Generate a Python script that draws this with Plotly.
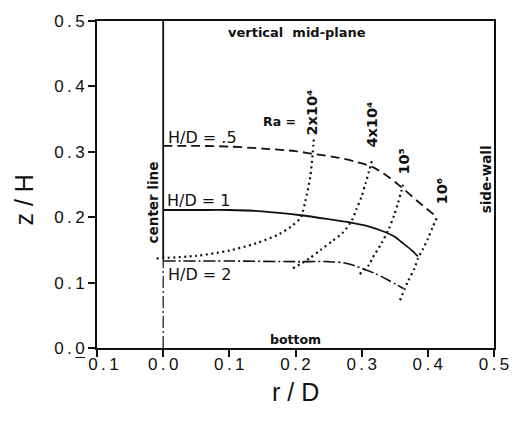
import plotly.graph_objects as go

# ---- data ----
hd05_r = [0.0, 0.05, 0.10, 0.15, 0.20, 0.225, 0.26, 0.29, 0.316, 0.34, 0.36, 0.385, 0.414]
hd05_z = [0.309, 0.309, 0.308, 0.305, 0.301, 0.297, 0.292, 0.285, 0.277, 0.262, 0.246, 0.224, 0.200]

hd1_r = [0.0, 0.05, 0.10, 0.15, 0.208, 0.25, 0.282, 0.31, 0.336, 0.35, 0.36, 0.375, 0.385]
hd1_z = [0.211, 0.211, 0.211, 0.209, 0.203, 0.197, 0.192, 0.186, 0.177, 0.170, 0.162, 0.150, 0.140]

hd2_r = [0.0, 0.10, 0.20, 0.25, 0.275, 0.30, 0.32, 0.34, 0.363]
hd2_z = [0.133, 0.133, 0.132, 0.132, 0.130, 0.122, 0.114, 0.104, 0.091]

ra2e4_r = [-0.01, 0.05, 0.10, 0.14, 0.175, 0.195, 0.208, 0.215, 0.222, 0.226, 0.228]
ra2e4_z = [0.137, 0.141, 0.149, 0.160, 0.174, 0.187, 0.200, 0.225, 0.260, 0.297, 0.325]

ra4e4_r = [0.196, 0.21, 0.221, 0.238, 0.255, 0.272, 0.285, 0.292, 0.300, 0.306, 0.311, 0.316]
ra4e4_z = [0.122, 0.130, 0.137, 0.150, 0.163, 0.177, 0.195, 0.212, 0.232, 0.252, 0.270, 0.288]

ra1e5_r = [0.297, 0.311, 0.316, 0.330, 0.341, 0.349, 0.355, 0.360, 0.364]
ra1e5_z = [0.113, 0.127, 0.137, 0.160, 0.182, 0.203, 0.222, 0.240, 0.255]

ra1e6_r = [0.358, 0.37, 0.38, 0.385, 0.393, 0.400, 0.407, 0.414]
ra1e6_z = [0.073, 0.102, 0.122, 0.137, 0.152, 0.167, 0.184, 0.200]

center_solid_r = [0.0, 0.0]
center_solid_z = [0.137, 0.5]
center_dd_r = [0.0, 0.0]
center_dd_z = [0.0, 0.137]

x_ticks = [-0.1, 0.0, 0.1, 0.2, 0.3, 0.4, 0.5]
x_ticklabels = ["¯0.1", "0.0", "0.1", "0.2", "0.3", "0.4", "0.5"]
y_ticks = [0.0, 0.1, 0.2, 0.3, 0.4, 0.5]
y_ticklabels = ["0.0", "0.1", "0.2", "0.3", "0.4", "0.5"]

ra_labels = ["2x10⁴", "4x10⁴", "10⁵", "10⁶"]

THIN = "\u2009"
def spaced(s):
    return THIN.join(list(s))

BLACK = "#111111"
DOT = "2px,3.5px"
DASHDOT = "12px,3px,2px,3px"

fig = go.Figure()

def add(r, z, dash, width=1.8, shape="spline"):
    fig.add_trace(go.Scatter(x=r, y=z, mode="lines",
                             line=dict(color=BLACK, width=width, dash=dash, shape=shape,
                                       smoothing=0.8),
                             showlegend=False, hoverinfo="skip"))

add(center_solid_r, center_solid_z, "solid", 1.8, "linear")
add(center_dd_r, center_dd_z, DASHDOT, 1.2, "linear")
add(hd05_r, hd05_z, "9px,5px")
add(hd1_r, hd1_z, "solid")
add(hd2_r, hd2_z, DASHDOT, 1.6)
for rr, zz in [(ra2e4_r, ra2e4_z), (ra4e4_r, ra4e4_z), (ra1e5_r, ra1e5_z), (ra1e6_r, ra1e6_z)]:
    add(rr, zz, DOT, 2.2)

def note(x, y, text, angle=0, xanchor="center", size=13, weight="bold"):
    fig.add_annotation(x=x, y=y, text=text, showarrow=False, textangle=angle,
                       xanchor=xanchor, yanchor="middle",
                       font=dict(family="DejaVu Sans", size=size, color=BLACK, weight=weight))

note(0.203, 0.482, "vertical  mid-plane", size=13)
note(0.2, 0.013, "bottom", size=12.5)
note(0.176, 0.347, "Ra =", size=12.5)
ra_pos = [(0.225, 0.360), (0.315, 0.341), (0.364, 0.285), (0.422, 0.240)]
for (lx, ly), lab in zip(ra_pos, ra_labels):
    note(lx, ly, lab, -90, size=14.5)
note(0.005, 0.322, "H/D = .5", 0, "left", 16, "normal")
note(0.003, 0.225, "H/D = 1", 0, "left", 16, "normal")
note(0.005, 0.112, "H/D = 2", 0, "left", 16, "normal")
note(-0.016, 0.222, "center line", -90, size=13.5)
note(0.488, 0.258, "side-wall", -90, size=13.5)

# axis titles placed as annotations to match the reference offsets
fig.add_annotation(x=0.2, y=-0.135, xref="x", yref="paper", text="r / D", showarrow=False,
                   xanchor="center", yanchor="middle",
                   font=dict(family="Liberation Sans", size=25, color=BLACK))
fig.add_annotation(x=-0.184, y=0.227, xref="paper", yref="y", text="z / H", showarrow=False,
                   textangle=-90, xanchor="center", yanchor="middle",
                   font=dict(family="Liberation Sans", size=25, color=BLACK))

axis_common = dict(showline=True, linecolor=BLACK, linewidth=2, mirror=True,
                   ticks="outside", ticklen=7, tickwidth=2, tickcolor=BLACK,
                   showgrid=False, zeroline=False,
                   tickfont=dict(family="Liberation Sans", size=17, color=BLACK))

fig.update_layout(
    width=521, height=426,
    margin=dict(l=97, r=16, t=15, b=78),
    plot_bgcolor="white", paper_bgcolor="white",
    xaxis=dict(range=[-0.1, 0.5], tickvals=x_ticks, ticktext=[spaced(t) for t in x_ticklabels],
               ticklabelstandoff=-7, **axis_common),
    yaxis=dict(range=[0.0, 0.5], tickvals=y_ticks, ticktext=[spaced(t) for t in y_ticklabels],
               **axis_common),
)

fig.write_html("out.html")
